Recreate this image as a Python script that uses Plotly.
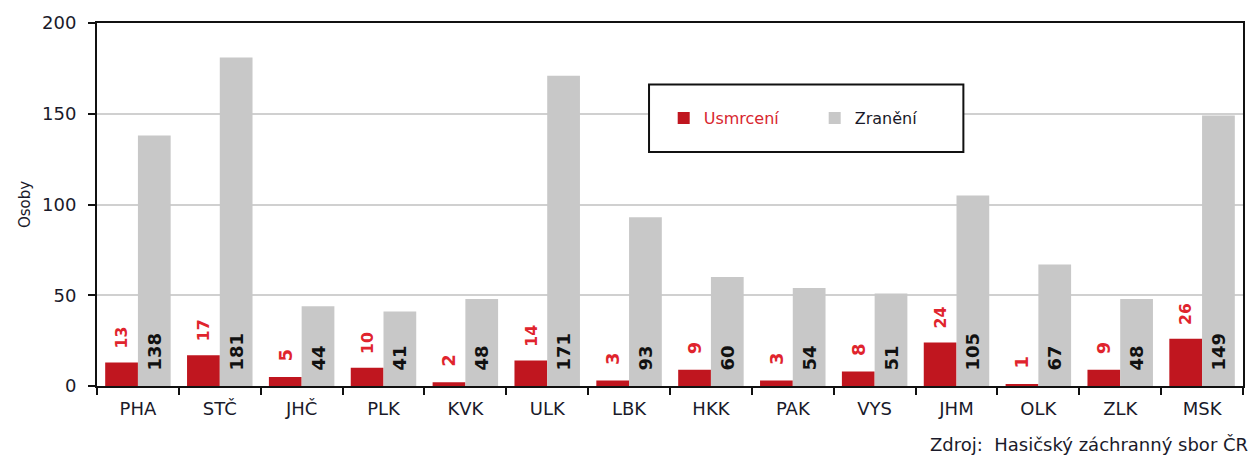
import plotly.graph_objects as go

kraje = ['PHA', 'STČ', 'JHČ', 'PLK', 'KVK', 'ULK', 'LBK', 'HKK', 'PAK', 'VYS', 'JHM', 'OLK', 'ZLK', 'MSK']
usmrceni = [13, 17, 5, 10, 2, 14, 3, 9, 3, 8, 24, 1, 9, 26]
zraneni = [138, 181, 44, 41, 48, 171, 93, 60, 54, 51, 105, 67, 48, 149]

red = '#c0161f'
grey = '#c8c8c8'
font = 'DejaVu Sans'
pad = '\u00a0\u00a0'  # posune popisky kousek od zakladny

fig = go.Figure()

fig.add_trace(go.Bar(
    x=kraje, y=usmrceni,
    name='<span style="color:#d8262f">Usmrcení</span>',
    marker=dict(color=red, line=dict(width=0)),
    text=usmrceni,
    texttemplate=pad + '%{y}',
    textposition='outside',
    textangle=-90,
    cliponaxis=False,
    textfont=dict(family=font, size=18, color='#e0242d', weight='bold'),
))

fig.add_trace(go.Bar(
    x=kraje, y=zraneni,
    name='<span style="color:#1a1a2a">Zranění</span>',
    marker=dict(color=grey, line=dict(width=0)),
    text=zraneni,
    texttemplate=pad + '%{y}',
    textposition='inside',
    insidetextanchor='start',
    textangle=-90,
    textfont=dict(family=font, size=18, color='#111111', weight='bold'),
))

# ramecek legendy
fig.add_shape(type='rect', xref='paper', yref='paper',
              x0=0.4817, x1=0.756, y0=0.6448, y1=0.8306,
              line=dict(color='#111111', width=2), fillcolor='white', layer='above')

fig.add_annotation(text='Zdroj:\u00a0\u00a0Hasičský záchranný sbor ČR',
                   xref='paper', yref='paper', x=1.006, y=-0.16,
                   xanchor='right', yanchor='middle', showarrow=False,
                   font=dict(family=font, size=18, color='#1a1a2a'))

fig.update_layout(
    width=1257, height=461,
    margin=dict(l=97, r=12, t=20, b=75),
    plot_bgcolor='white', paper_bgcolor='white',
    font=dict(family=font, size=18, color='#1a1a2a'),
    barmode='group', bargap=0.2, bargroupgap=0,
    showlegend=True,
    legend=dict(orientation='h', x=0.4945, y=0.738, xanchor='left', yanchor='middle',
                bgcolor='rgba(0,0,0,0)', borderwidth=0, entrywidth=106,
                entrywidthmode='pixels', font=dict(family=font, size=16)),
)

fig.update_xaxes(showline=True, linecolor='#111111', linewidth=2, mirror=True,
                 ticks='outside', tickson='boundaries', ticklen=7, tickwidth=2,
                 tickcolor='#111111', showgrid=False, ticklabelstandoff=5,
                 tickfont=dict(family=font, size=18, color='#1a1a2a'))

fig.update_yaxes(range=[0, 200], dtick=50, showline=True, linecolor='#111111',
                 linewidth=2, mirror=True, ticks='outside', ticklen=7, tickwidth=2,
                 tickcolor='#111111', showgrid=True, gridcolor='#d0d0d0', gridwidth=2,
                 zeroline=False, ticklabelstandoff=8,
                 tickfont=dict(family=font, size=18, color='#1a1a2a'),
                 title=dict(text='Osoby', font=dict(family=font, size=15, color='#1a1a2a'),
                            standoff=8))

fig.write_html('out.html', config={'displayModeBar': False},
               post_script="document.body.style.margin='0';")
